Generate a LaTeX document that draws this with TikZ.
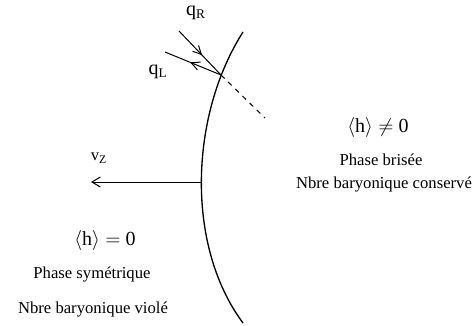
\documentclass[tikz,border=0pt]{standalone}
\usepackage{fontspec}
\setmainfont{Liberation Serif}
\usepackage{tikz}
\usetikzlibrary{arrows.meta, positioning, calc, decorations.markings}

\tikzset{
    wall/.style={thick},
    quark/.style={semithick, postaction={decorate}, decoration={markings,
        mark=at position 0.55 with {\arrow{Straight Barb[length=5pt, width=5pt]}}}},
}

\begin{document}
\begin{tikzpicture}[x=0.6pt, y=-0.6pt]
    \useasboundingbox (0, 0) rectangle (474, 326);

    % paroi de bulle
    \draw[wall] (243, 32) .. controls (190, 115) and (185, 245) .. (243, 323);
    \coordinate (hit) at (221, 75);
    \coordinate (wall) at (201, 182);

    % quarks
    \coordinate (inR) at (179, 31);
    \coordinate (outL) at (165, 52);
    \coordinate (dash) at (265, 118);
    \draw[quark] (inR) -- (hit);
    \draw[quark] (hit) -- (outL);
    \draw[semithick, dashed] (hit) -- (dash);
    \node[font=\large] (qR) at (196, 13) {q\textsubscript{R}};
    \node[font=\large] (qL) at (158, 72) {q\textsubscript{L}};

    % vitesse
    \coordinate (vend) at (91, 182);
    \draw[semithick, -{Straight Barb[length=5pt, width=6pt]}] (wall) -- (vend);
    \node (vz) at (99, 158) {v\textsubscript{Z}};

    % phase brisee
    \node[font=\large] (hb) at (378, 127) {$\langle$h$\rangle \neq$ 0};
    \node (pb) at (381, 160) {Phase brisée};
    \node (nb) at (384, 185) {Nbre baryonique conservé};

    % phase symetrique
    \node[font=\large] (hs) at (105, 240) {$\langle$h$\rangle =$ 0};
    \node (ps) at (92, 275) {Phase symétrique};
    \node (ns) at (93, 310) {Nbre baryonique violé};
\end{tikzpicture}
\end{document}
